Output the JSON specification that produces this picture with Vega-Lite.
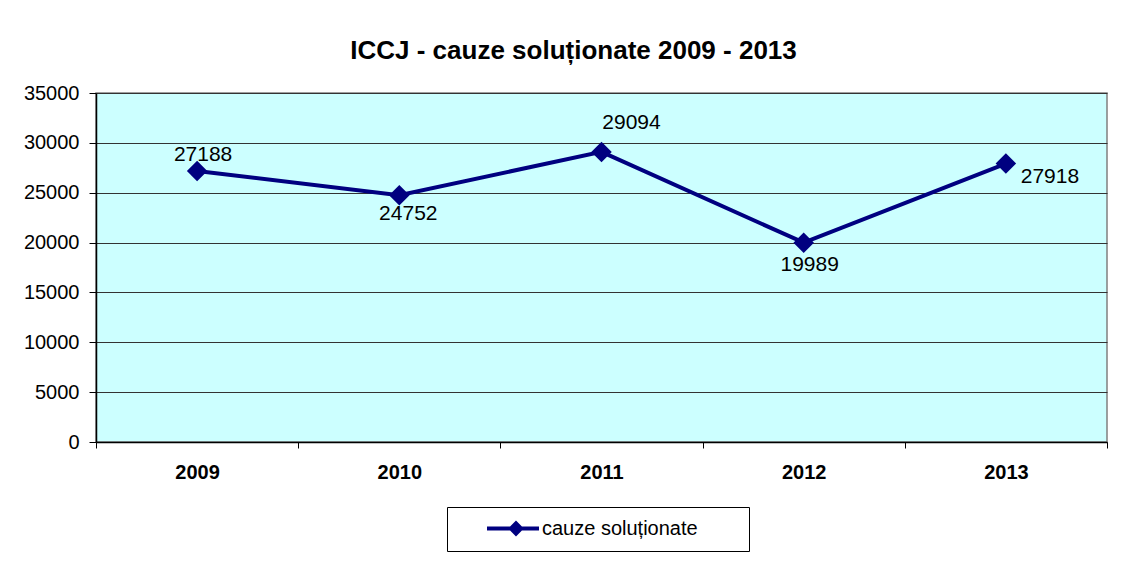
{
  "$schema": "https://vega.github.io/schema/vega-lite/v6.json",
  "width": 1011,
  "height": 349,
  "autosize": {"type": "none"},
  "padding": {"left": 96, "top": 93, "right": 24, "bottom": 126},
  "background": "#ffffff",
  "config": {
    "font": "Liberation Sans",
    "view": {"fill": "#CCFFFF", "stroke": "#808080", "strokeWidth": 1.5}
  },
  "title": {
    "text": "ICCJ - cauze soluționate 2009 - 2013",
    "font": "Liberation Sans",
    "fontSize": 26,
    "fontWeight": "bold",
    "color": "#000000",
    "anchor": "middle",
    "dx": -28,
    "offset": 19
  },
  "data": {
    "values": [
      {"an": "2009", "cauze": 27188, "series": "cauze soluționate"},
      {"an": "2010", "cauze": 24752, "series": "cauze soluționate"},
      {"an": "2011", "cauze": 29094, "series": "cauze soluționate"},
      {"an": "2012", "cauze": 19989, "series": "cauze soluționate"},
      {"an": "2013", "cauze": 27918, "series": "cauze soluționate"}
    ]
  },
  "encoding": {
    "x": {
      "field": "an",
      "type": "nominal",
      "sort": null,
      "scale": {"type": "band", "paddingInner": 0, "paddingOuter": 0},
      "axis": {
        "title": null,
        "labelAngle": 0,
        "labelFont": "Liberation Sans",
        "labelFontSize": 20,
        "labelFontWeight": "bold",
        "labelColor": "#000000",
        "labelPadding": 14,
        "tickBand": "extent",
        "tickSize": 6,
        "tickColor": "#000000",
        "domainColor": "#000000",
        "domainWidth": 1.5,
        "grid": false
      }
    },
    "y": {
      "field": "cauze",
      "type": "quantitative",
      "scale": {"domain": [0, 35000], "nice": false},
      "axis": {
        "title": null,
        "values": [0, 5000, 10000, 15000, 20000, 25000, 30000, 35000],
        "format": "d",
        "labelFont": "Liberation Sans",
        "labelFontSize": 20,
        "labelColor": "#000000",
        "labelPadding": 10,
        "tickSize": 7,
        "tickColor": "#000000",
        "domainColor": "#000000",
        "domainWidth": 1.5,
        "grid": true,
        "gridColor": "#333333",
        "gridWidth": 1
      }
    }
  },
  "layer": [
    {
      "mark": {"type": "line", "color": "#000080", "strokeWidth": 4}
    },
    {
      "mark": {"type": "point", "shape": "diamond", "filled": true, "size": 420, "opacity": 1},
      "encoding": {
        "color": {
          "field": "series",
          "type": "nominal",
          "scale": {"range": ["#000080"]},
          "legend": {
            "title": null,
            "orient": "none",
            "legendX": 351,
            "legendY": 414,
            "symbolType": "M-0.291,-0.05L1.025,-0.05L1.025,0.05L-0.291,0.05Z M0.443,-0.2L0.643,0L0.443,0.2L0.243,0Z",
            "symbolSize": 6241,
            "symbolStrokeWidth": 0,
            "symbolOpacity": 1,
            "clipHeight": 19,
            "labelFont": "Liberation Sans",
            "labelFontSize": 20,
            "labelColor": "#000000",
            "labelOffset": 4,
            "labelLimit": 400,
            "labelExpr": "datum.label + '\u00a0\u00a0\u00a0\u00a0\u00a0\u00a0\u00a0\u200b'",
            "padding": 12,
            "strokeColor": "#000000",
            "fillColor": "#ffffff"
          }
        }
      }
    },
    {
      "transform": [{"filter": "datum.an == '2009'"}],
      "mark": {"type": "text", "font": "Liberation Sans", "fontSize": 21, "color": "#000000", "baseline": "middle", "align": "center", "dx": 6, "dy": -16},
      "encoding": {"text": {"field": "cauze", "type": "quantitative", "format": "d"}}
    },
    {
      "transform": [{"filter": "datum.an == '2010'"}],
      "mark": {"type": "text", "font": "Liberation Sans", "fontSize": 21, "color": "#000000", "baseline": "middle", "align": "center", "dx": 9, "dy": 19},
      "encoding": {"text": {"field": "cauze", "type": "quantitative", "format": "d"}}
    },
    {
      "transform": [{"filter": "datum.an == '2011'"}],
      "mark": {"type": "text", "font": "Liberation Sans", "fontSize": 21, "color": "#000000", "baseline": "middle", "align": "center", "dx": 30, "dy": -29},
      "encoding": {"text": {"field": "cauze", "type": "quantitative", "format": "d"}}
    },
    {
      "transform": [{"filter": "datum.an == '2012'"}],
      "mark": {"type": "text", "font": "Liberation Sans", "fontSize": 21, "color": "#000000", "baseline": "middle", "align": "center", "dx": 6, "dy": 22},
      "encoding": {"text": {"field": "cauze", "type": "quantitative", "format": "d"}}
    },
    {
      "transform": [{"filter": "datum.an == '2013'"}],
      "mark": {"type": "text", "font": "Liberation Sans", "fontSize": 21, "color": "#000000", "baseline": "middle", "align": "center", "dx": 44, "dy": 13},
      "encoding": {"text": {"field": "cauze", "type": "quantitative", "format": "d"}}
    }
  ]
}
